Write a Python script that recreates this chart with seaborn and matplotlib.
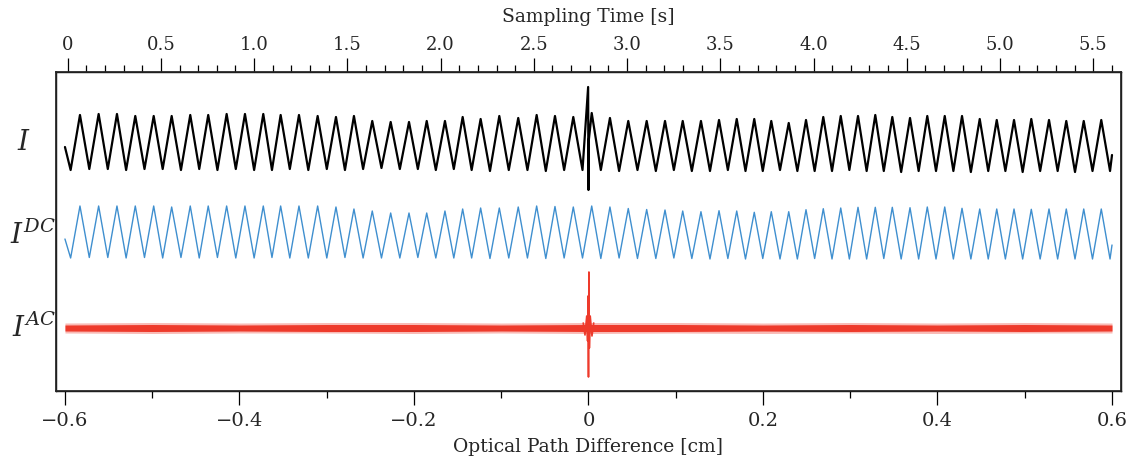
import numpy as np
import pandas as pd
import matplotlib
matplotlib.use("Agg")
import matplotlib.pyplot as plt
import seaborn as sns
from matplotlib.ticker import MultipleLocator, FuncFormatter

# Peak positions of the interferogram fringes, optical path difference [cm]
peak_opd = [-0.5828, -0.5614, -0.5404, -0.5194, -0.4983, -0.4777, -0.4564, -0.4358,
            -0.4147, -0.3937, -0.3727, -0.3528, -0.3318, -0.3104, -0.2894, -0.2688,
            -0.2478, -0.2267, -0.2057, -0.1854, -0.1645, -0.1442, -0.1236, -0.1022,
            -0.0805, -0.0594, -0.0384, -0.0174, 0.0037, 0.0246, 0.0456, 0.0667,
            0.0877, 0.1080, 0.1289, 0.1496, 0.1699, 0.1900, 0.2095, 0.2295,
            0.2493, 0.2691, 0.2891, 0.3089, 0.3287, 0.3482, 0.3685, 0.3883,
            0.4083, 0.4281, 0.4484, 0.4679, 0.4877, 0.5075, 0.5278, 0.5476,
            0.5676, 0.5877]

# raw intensity I: peak heights and trough levels (arbitrary units)
I_peak = [0.55, 0.56, 0.56, 0.54, 0.54, 0.54, 0.55, 0.55, 0.56, 0.56, 0.56, 0.55,
          0.55, 0.54, 0.53, 0.54, 0.49, 0.48, 0.48, 0.49, 0.49, 0.53, 0.51, 0.54,
          0.52, 0.55, 0.54, 0.53, 0.57, 0.52, 0.49, 0.49, 0.49, 0.49, 0.49, 0.50,
          0.51, 0.51, 0.49, 0.47, 0.50, 0.53, 0.54, 0.54, 0.55, 0.53, 0.52, 0.54,
          0.54, 0.54, 0.51, 0.50, 0.50, 0.51, 0.50, 0.49, 0.49, 0.50]
I_trough = [0.00, 0.01, 0.01, 0.00, 0.01, 0.01, 0.00, 0.01, 0.00, 0.01, 0.00, 0.00,
            0.01, 0.00, 0.01, 0.00, 0.01, 0.02, 0.01, 0.01, 0.00, 0.01, 0.00, -0.01,
            0.00, 0.00, -0.01, 0.00, 0.00, 0.00, -0.01, 0.00, -0.01, 0.00, -0.01, -0.01,
            0.00, -0.01, -0.01, 0.00, -0.01, -0.01, -0.01, 0.00, -0.01, -0.01, -0.02, -0.01,
            -0.01, -0.01, -0.02, -0.01, -0.01, -0.02, -0.01, -0.01, -0.02, -0.01, -0.01]
I_ends = [0.23, 0.15]
# zero path difference burst on I
I_burst_opd = [-0.0004, 0.0, 0.0004]
I_burst = [0.83, -0.20, 0.30]

# DC component
DC_peak = [0.52, 0.52, 0.52, 0.52, 0.52, 0.51, 0.52, 0.52, 0.52, 0.52, 0.52, 0.52,
           0.52, 0.52, 0.51, 0.49, 0.47, 0.45, 0.45, 0.45, 0.47, 0.49, 0.50, 0.50,
           0.51, 0.52, 0.515, 0.51, 0.52, 0.51, 0.495, 0.485, 0.48, 0.47, 0.463, 0.473,
           0.47, 0.457, 0.463, 0.463, 0.483, 0.493, 0.50, 0.507, 0.507, 0.507, 0.503, 0.51,
           0.51, 0.497, 0.49, 0.49, 0.49, 0.487, 0.49, 0.49, 0.49, 0.49]
DC_trough = [0.00, 0.005, 0.005, 0.00, 0.005, 0.00, 0.005, 0.00, 0.005, 0.00, 0.00, 0.005,
             0.00, 0.00, 0.00, 0.005, 0.00, 0.00, 0.00, 0.005, 0.00, 0.00, 0.00, -0.005,
             0.00, 0.00, -0.005, 0.00, 0.00, -0.005, 0.00, -0.005, -0.005, 0.00, -0.005, -0.01,
             -0.005, -0.01, -0.005, -0.01, -0.01, -0.005, -0.01, -0.01, -0.01, -0.005, -0.01, -0.01,
             -0.01, -0.01, -0.01, -0.01, -0.01, -0.01, -0.01, -0.01, -0.01, -0.01, -0.01]
DC_ends = [0.19, 0.13]

# AC component: noise envelope (core and outer spread) and burst at zero path difference
AC_env_opd = [-0.6, -0.5, -0.4, -0.3, -0.2, -0.1, 0.0, 0.1, 0.2, 0.3, 0.4, 0.5, 0.6]
AC_core = [0.03, 0.035, 0.03, 0.035, 0.035, 0.03, 0.035, 0.035, 0.03, 0.035, 0.03, 0.035, 0.03]
AC_upper = [0.05, 0.055, 0.05, 0.055, 0.055, 0.05, 0.055, 0.055, 0.05, 0.055, 0.05, 0.055, 0.05]
AC_lower = [-0.05, -0.055, -0.05, -0.05, -0.055, -0.05, -0.055, -0.05, -0.055, -0.05, -0.055, -0.05, -0.05]
AC_burst_opd = [-0.006, -0.004, -0.002, -0.001, -0.0005, 0.0, 0.0005, 0.001, 0.002, 0.004, 0.006]
AC_burst = [0.05, -0.07, 0.12, -0.13, 0.32, -0.49, 0.56, -0.20, 0.12, -0.08, 0.05]

opd_lim = (-0.6103, 0.6103)
time_lim = (-0.0627, 5.649)


def fringe_trace(peaks, heights, troughs, ends, extra_x=(), extra_y=()):
    px = np.array(peaks)
    half = np.diff(px) / 2
    tx = np.concatenate([[px[0] - half[0]], px[:-1] + half, [px[-1] + half[-1]]])
    xs = [-0.6]
    ys = [ends[0]]
    for i in range(len(px)):
        xs += [tx[i], px[i]]
        ys += [troughs[i], heights[i]]
    xs += [tx[-1], 0.6]
    ys += [troughs[-1], ends[1]]
    xs = np.concatenate([xs, extra_x])
    ys = np.concatenate([ys, extra_y])
    order = np.argsort(xs, kind="stable")
    return pd.DataFrame({"opd": xs[order], "val": ys[order]})


sns.set_theme(style="ticks")
plt.rcParams["font.family"] = ["DejaVu Serif"]
plt.rcParams["mathtext.fontset"] = "dejavuserif"

fig = plt.figure(figsize=(11.33, 4.63), dpi=100)
ax = fig.add_axes([0.0494, 0.1555, 0.9400, 0.6890])

off_I, off_DC, off_AC = 2.21, 1.33, 0.63
red = "#ee3a2b"

df_I = fringe_trace(peak_opd, I_peak, I_trough, I_ends, I_burst_opd, I_burst)
df_I["val"] += off_I
sns.lineplot(data=df_I, x="opd", y="val", estimator=None, sort=False,
             color="black", lw=1.6, ax=ax)

df_DC = fringe_trace(peak_opd, DC_peak, DC_trough, DC_ends)
df_DC["val"] += off_DC
sns.lineplot(data=df_DC, x="opd", y="val", estimator=None, sort=False,
             color="#3f8fcf", lw=1.0, ax=ax)

core = np.array(AC_core)
ax.fill_between(AC_env_opd, np.array(AC_lower) + off_AC, np.array(AC_upper) + off_AC,
                color=red, alpha=0.35, lw=0)
ax.fill_between(AC_env_opd, off_AC - core, off_AC + core, color=red, lw=0)
df_AC = pd.DataFrame({"opd": AC_burst_opd, "val": np.array(AC_burst) + off_AC})
sns.lineplot(data=df_AC, x="opd", y="val", estimator=None, sort=False,
             color=red, lw=1.2, ax=ax)

ax.set_xlim(*opd_lim)
ax.set_ylim(0, 3.19)
ax.set_yticks([])
ax.set_ylabel("")
ax.xaxis.set_major_locator(MultipleLocator(0.2))
ax.xaxis.set_minor_locator(MultipleLocator(0.1))
ax.xaxis.set_major_formatter(FuncFormatter(
    lambda v, p: "0" if abs(v) < 1e-9 else f"{v:.1f}".replace("-", "\u2212")))
ax.tick_params(axis="x", which="major", length=10, width=0.9, labelsize=14, pad=5, color="black")
ax.tick_params(axis="x", which="minor", length=5, width=0.9, color="black")
ax.set_xlabel("Optical Path Difference [cm]", fontsize=13.5, labelpad=6)
for s in ax.spines.values():
    s.set_visible(True)
    s.set_linewidth(1.0)
    s.set_color("black")

ax2 = ax.twiny()
ax2.set_xlim(*time_lim)
ax2.xaxis.set_major_locator(MultipleLocator(0.5))
ax2.xaxis.set_minor_locator(MultipleLocator(0.1))
ax2.xaxis.set_major_formatter(FuncFormatter(
    lambda v, p: "0" if abs(v) < 1e-9 else f"{v:.1f}"))
ax2.tick_params(axis="x", which="major", length=10, width=0.9, labelsize=13, pad=3, color="black")
ax2.tick_params(axis="x", which="minor", length=5, width=0.9, color="black")
ax2.set_xlabel("Sampling Time [s]", fontsize=13.5, labelpad=10)

fig.text(24 / 1133, 1 - 142 / 463, r"$I$", fontsize=20, ha="center", va="center")
fig.text(10 / 1133, 1 - 244 / 463, r"$I^{DC}$", fontsize=20, ha="left", va="baseline")
fig.text(12 / 1133, 1 - 337 / 463, r"$I^{AC}$", fontsize=20, ha="left", va="baseline")

fig.savefig("out.png", dpi=100)
